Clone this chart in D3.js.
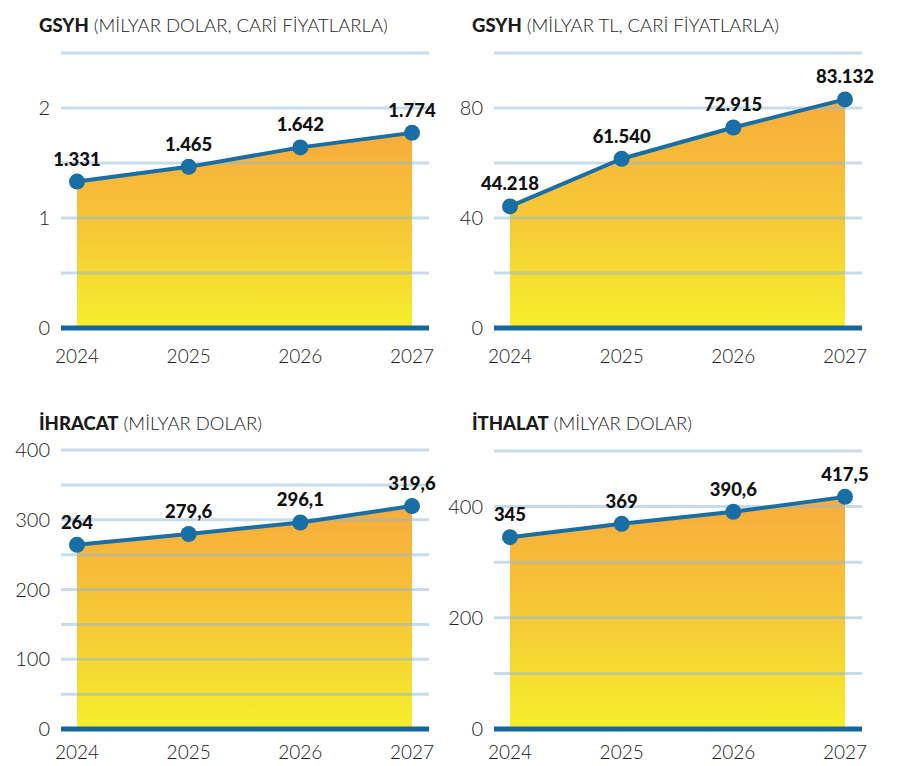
<!DOCTYPE html>
<html><head><meta charset="utf-8">
<script src="https://cdn.jsdelivr.net/npm/d3@7"></script>
<style>
html,body{margin:0;padding:0;background:#fff;}
text{font-family:Lato,"Open Sans",sans-serif;}
</style></head>
<body>
<svg id="c" width="900" height="766"></svg>
<script>
const years = ["2024","2025","2026","2027"];
const gdpUsd = [1.331, 1.465, 1.642, 1.774];
const gdpUsdLabels = ["1.331","1.465","1.642","1.774"];
const gdpTl = [44.218, 61.540, 72.915, 83.132];
const gdpTlLabels = ["44.218","61.540","72.915","83.132"];
const exportsV = [264, 279.6, 296.1, 319.6];
const exportsLabels = ["264","279,6","296,1","319,6"];
const importsV = [345, 369, 390.6, 417.5];
const importsLabels = ["345","369","390,6","417,5"];
const gdpUsdTicks = [0, 1, 2];
const gdpTlTicks = [0, 40, 80];
const exportsTicks = [0, 100, 200, 300, 400];
const importsTicks = [0, 200, 400];

const panels = [
  {bold:"GSYH", rest:" (MİLYAR DOLAR, CARİ FİYATLARLA)", vals:gdpUsd, labels:gdpUsdLabels, ticks:gdpUsdTicks, max:2.5, grid:0.5, ox:0, top:53, base:328, titleY:32, xOff:35},
  {bold:"GSYH", rest:" (MİLYAR TL, CARİ FİYATLARLA)", vals:gdpTl, labels:gdpTlLabels, ticks:gdpTlTicks, max:100, grid:20, ox:433, top:53, base:328, titleY:32, xOff:35},
  {bold:"İHRACAT", rest:" (MİLYAR DOLAR)", vals:exportsV, labels:exportsLabels, ticks:exportsTicks, max:400, grid:50, ox:0, top:450, base:729, titleY:430, xOff:30},
  {bold:"İTHALAT", rest:" (MİLYAR DOLAR)", vals:importsV, labels:importsLabels, ticks:importsTicks, max:500, grid:100, ox:433, top:451, base:729, titleY:430, xOff:30}
];

const svg = d3.select("#c");
svg.append("rect").attr("width",900).attr("height",766).attr("fill","#fff");
const defs = svg.append("defs");
const grad = defs.append("linearGradient").attr("id","g").attr("x1",0).attr("y1",0).attr("x2",0).attr("y2",1);
grad.append("stop").attr("offset","0%").attr("stop-color","#f8ac3c");
grad.append("stop").attr("offset","55%").attr("stop-color","#f6cb36");
grad.append("stop").attr("offset","100%").attr("stop-color","#f6ef2c");

panels.forEach(p => {
  const g = svg.append("g").attr("transform",`translate(${p.ox},0)`);
  const x = d3.scalePoint().domain(years).range([77, 412]).padding(0);
  const y = d3.scaleLinear().domain([0, p.max]).range([p.base, p.top]);
  const gx0 = 61, gx1 = 429;

  // title
  const t = g.append("text").attr("x",39).attr("y",p.titleY).attr("font-size",18.5).attr("fill","#1a1a1a");
  t.append("tspan").attr("font-weight",900).text(p.bold);
  t.append("tspan").attr("font-weight",300).text(p.rest);

  // area
  const area = d3.area().x((d,i)=>x(years[i])).y0(y(0)).y1(d=>y(d));
  g.append("path").datum(p.vals).attr("d",area).attr("fill","url(#g)");

  // gridlines
  const gridVals = d3.range(p.grid, p.max + p.grid/2, p.grid);
  g.selectAll(".gl").data(gridVals).join("line")
    .attr("x1",gx0).attr("x2",gx1).attr("y1",d=>y(d)).attr("y2",d=>y(d))
    .attr("stroke","#8ebad8").attr("stroke-opacity",0.5).attr("stroke-width",3);

  // baseline
  g.append("line").attr("x1",gx0).attr("x2",gx1).attr("y1",y(0)).attr("y2",y(0))
    .attr("stroke","#16669e").attr("stroke-width",5);

  // y tick labels
  g.selectAll(".yt").data(p.ticks).join("text")
    .attr("x",50).attr("y",d=>y(d)).attr("dy","0.35em").attr("text-anchor","end")
    .attr("font-size",20).attr("font-weight",300).attr("fill","#222").text(d=>d);

  // x labels
  g.selectAll(".xt").data(years).join("text")
    .attr("x",d=>x(d)).attr("y",p.base+p.xOff).attr("text-anchor","middle")
    .attr("font-size",19).attr("font-weight",300).attr("fill","#222").text(d=>d);

  // line
  const line = d3.line().x((d,i)=>x(years[i])).y(d=>y(d));
  g.append("path").datum(p.vals).attr("d",line).attr("fill","none")
    .attr("stroke","#1a6ea6").attr("stroke-width",4).attr("stroke-linejoin","round");

  // dots
  g.selectAll(".dot").data(p.vals).join("circle")
    .attr("cx",(d,i)=>x(years[i])).attr("cy",d=>y(d)).attr("r",8)
    .attr("fill","#1a6ea6");

  // value labels
  g.selectAll(".vl").data(p.vals).join("text")
    .attr("x",(d,i)=>x(years[i])).attr("y",d=>y(d)-16).attr("text-anchor","middle")
    .attr("font-size",18.5).attr("font-weight",900).attr("fill","#111")
    .text((d,i)=>p.labels[i]);
});
</script>
</body></html>
